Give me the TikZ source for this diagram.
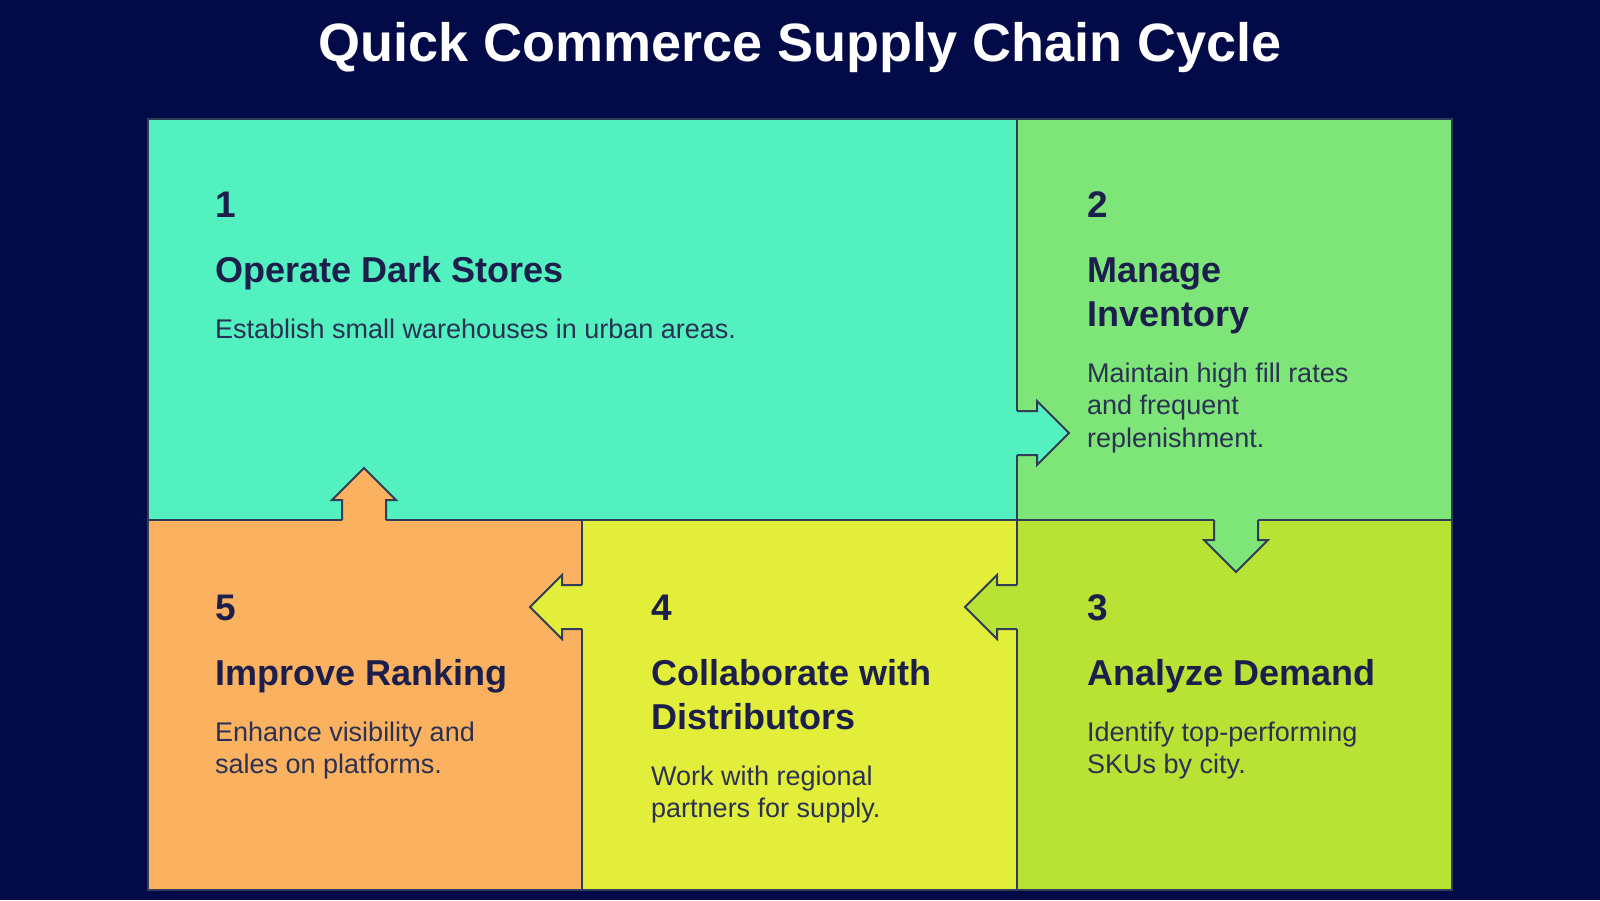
\documentclass[tikz,border=0pt]{standalone}
\usepackage{fontspec}
\setmainfont{Liberation Sans}
\usepackage{xcolor}
\usepackage{tikz}
\usetikzlibrary{positioning, calc}
\definecolor{qcnavy}{HTML}{030A48}
\definecolor{qcink}{HTML}{1C1F4C}
\definecolor{qcsub}{HTML}{2A3152}
\definecolor{qcline}{HTML}{2F3D57}
\definecolor{qcteal}{HTML}{53F0C0}
\definecolor{qcgreen}{HTML}{7EE678}
\definecolor{qclime}{HTML}{B8E234}
\definecolor{qcyellow}{HTML}{E3EE3B}
\definecolor{qcorange}{HTML}{FBB260}

% puzzle arrow: base point, angle, fill colour
\newcommand{\qcArrow}[3]{%
  \begin{scope}[shift={(#1)}, rotate=#2]
    \fill[#3] (-3,-22) -- (20,-22) -- (20,-32) -- (52,0) -- (20,32) -- (20,22) -- (-3,22) -- cycle;
    \draw[edge] (0,-22) -- (20,-22) -- (20,-32) -- (52,0) -- (20,32) -- (20,22) -- (0,22);
  \end{scope}}

\begin{document}
\begin{tikzpicture}[x=1pt, y=-1pt,
    edge/.style={draw=qcline, line width=2pt, line join=miter},
    tile/.style={edge, fill=#1},
    num/.style={anchor=base west, inner sep=0, text=qcink, font=\fontsize{37}{40}\selectfont\bfseries},
    head/.style={anchor=base west, inner sep=0, align=left, text=qcink, font=\fontsize{36}{44}\selectfont\bfseries},
    desc/.style={anchor=base west, inner sep=0, align=left, text=qcsub, font=\fontsize{27}{32.5}\selectfont}]
    % Background
    \fill[qcnavy] (0,0) rectangle (1600,900);
    \useasboundingbox (0,0) rectangle (1600,900);
    \node[text=white, font=\fontsize{54}{60}\selectfont\bfseries, anchor=base] (title) at (800,61) {Quick Commerce Supply Chain Cycle};

    % Tiles
    \draw[tile=qcteal] (148,119) rectangle (1017,520);
    \draw[tile=qcgreen] (1017,119) rectangle (1452,520);
    \draw[tile=qclime] (1017,520) rectangle (1452,890);
    \draw[tile=qcyellow] (582,520) rectangle (1017,890);
    \draw[tile=qcorange] (148,520) rectangle (582,890);

    % Arrows between tiles
    \coordinate (a12) at (1017,433);
    \coordinate (a23) at (1236,520);
    \coordinate (a34) at (1017,607);
    \coordinate (a45) at (582,607);
    \coordinate (a51) at (364,520);
    \qcArrow{a12}{0}{qcteal}
    \qcArrow{a23}{-90}{qcgreen}
    \qcArrow{a34}{180}{qclime}
    \qcArrow{a45}{180}{qcyellow}
    \qcArrow{a51}{90}{qcorange}

    % Step texts (multi-line nodes sit on their last baseline)
    \node[num] (n1) at (215,217) {1};
    \node[head] (h1) at (215,282) {Operate Dark Stores};
    \node[desc] (d1) at (215,338) {Establish small warehouses in urban areas.};

    \node[num] (n2) at (1087,217) {2};
    \node[head] (h2) at (1087,326) {Manage\\Inventory};
    \node[desc] (d2) at (1087,447) {Maintain high fill rates\\and frequent\\replenishment.};

    \node[num] (n3) at (1087,620) {3};
    \node[head] (h3) at (1087,685) {Analyze Demand};
    \node[desc] (d3) at (1087,773.5) {Identify top-performing\\SKUs by city.};

    \node[num] (n4) at (651,620) {4};
    \node[head] (h4) at (651,729) {Collaborate with\\Distributors};
    \node[desc] (d4) at (651,817.5) {Work with regional\\partners for supply.};

    \node[num] (n5) at (215,620) {5};
    \node[head] (h5) at (215,685) {Improve Ranking};
    \node[desc] (d5) at (215,773.5) {Enhance visibility and\\sales on platforms.};
\end{tikzpicture}
\end{document}
